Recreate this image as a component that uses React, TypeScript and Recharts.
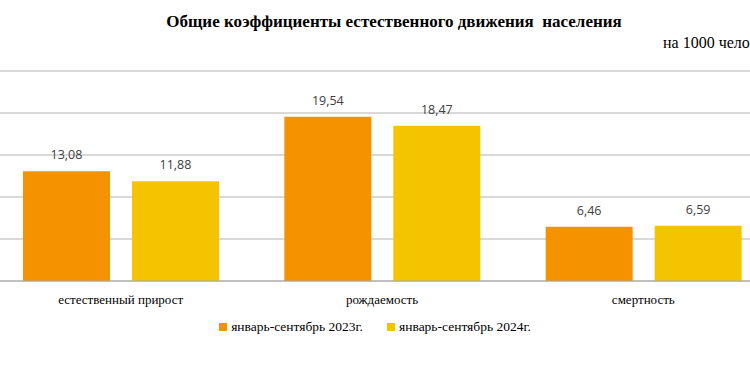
import { BarChart, Bar, XAxis, YAxis, CartesianGrid, LabelList } from 'recharts'

const categories = ['естественный прирост', 'рождаемость', 'смертность']
const values2023 = [13.08, 19.54, 6.46]
const values2024 = [11.88, 18.47, 6.59]
const seriesNames = ['январь-сентябрь 2023г.', 'январь-сентябрь 2024г.']
const seriesColors = ['#F59200', '#F5C400']
const yTicks = [0, 5, 10, 15, 20, 25]

const data = categories.map((name, i) => ({
  name,
  a: values2023[i],
  b: values2024[i],
}))

const serif = '"Liberation Serif", "Times New Roman", serif'
const fmt = (v: any) => Number(v).toFixed(2).replace('.', ',')

const labelStyle = { fontFamily: '"Open Sans", sans-serif', fontSize: 12.5, fill: '#404040' }

export default function App() {
  return (
    <div style={{ position: 'fixed', left: 0, top: 0, width: 750, height: 375, overflow: 'hidden', background: '#fff' }}>
      <div style={{ position: 'absolute', left: 0, width: 788, top: 12, textAlign: 'center', fontFamily: serif, fontWeight: 'bold', fontSize: 17, whiteSpace: 'pre' }}>
        {'Общие коэффициенты естественного движения  населения'}
      </div>
      {/* the source crops this note at the right edge */}
      <div style={{ position: 'absolute', left: 663, top: 34, fontFamily: serif, fontSize: 16, whiteSpace: 'nowrap' }}>
        на 1000 человек
      </div>
      <BarChart
        width={784}
        height={375}
        data={data}
        margin={{ top: 71, right: 0, left: 0, bottom: 64 }}
        barGap={22}
        style={{ position: 'absolute', left: -10, top: 0 }}
      >
        <CartesianGrid vertical={false} stroke="#b3b3b3" />
        <XAxis
          dataKey="name"
          height={30}
          axisLine={{ stroke: '#a6a6a6' }}
          tickLine={false}
          tick={{ fontFamily: serif, fontSize: 13, fill: '#000' }}
          tickMargin={8}
        />
        <YAxis hide domain={[0, 25]} ticks={yTicks} />
        <Bar dataKey="a" fill={seriesColors[0]} barSize={87} isAnimationActive={false}>
          <LabelList dataKey="a" position="top" offset={12} formatter={fmt} style={labelStyle} />
        </Bar>
        <Bar dataKey="b" fill={seriesColors[1]} barSize={87} isAnimationActive={false}>
          <LabelList dataKey="b" position="top" offset={12} formatter={fmt} style={labelStyle} />
        </Bar>
      </BarChart>
      <div style={{ position: 'absolute', top: 319, left: 0, width: 750, display: 'flex', justifyContent: 'center', gap: 24, fontFamily: serif, fontSize: 13.5 }}>
        {seriesNames.map((n, i) => (
          <div key={n} style={{ display: 'flex', alignItems: 'center' }}>
            <span style={{ display: 'inline-block', width: 8, height: 8, background: seriesColors[i], marginRight: 4 }} />
            <span>{n}</span>
          </div>
        ))}
      </div>
    </div>
  )
}
